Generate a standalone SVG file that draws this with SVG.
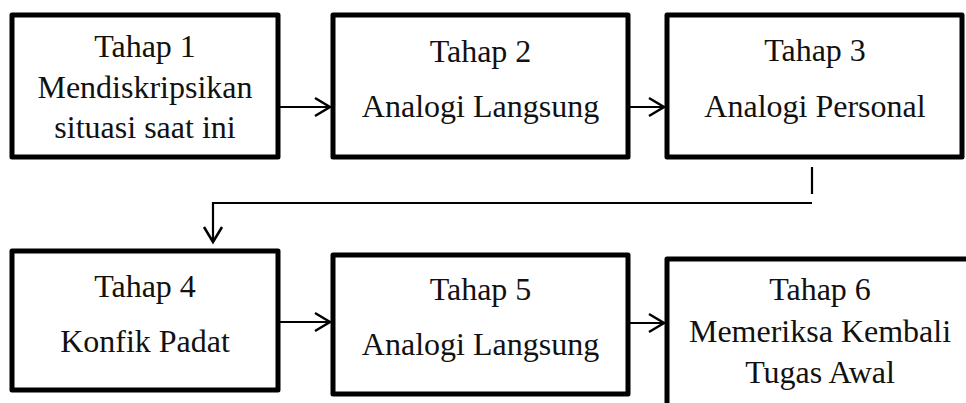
<svg xmlns="http://www.w3.org/2000/svg" width="966" height="403" viewBox="0 0 966 403">
<style>
.box{fill:#fff;stroke:#000;stroke-width:5;stroke-linejoin:round}
.lbl{font-family:"Liberation Serif","Times New Roman",serif;font-size:32px;fill:#111;text-anchor:middle}
.con{fill:none;stroke:#000;stroke-width:2.2}
</style>
<defs>
<marker id="arr" markerUnits="userSpaceOnUse" markerWidth="20" markerHeight="24" refX="16" refY="10" orient="auto" viewBox="0 0 20 20">
<polyline points="1,1 16,10 1,19" fill="none" stroke="#000" stroke-width="2.5" stroke-linejoin="miter"/>
</marker>
</defs>
<rect width="966" height="403" fill="#fff"/>
<g id="connectors">
<line class="con" x1="280" y1="107" x2="330" y2="107" marker-end="url(#arr)"/>
<line class="con" x1="630" y1="107" x2="664" y2="107" marker-end="url(#arr)"/>
<line class="con" x1="812" y1="167" x2="812" y2="194"/>
<polyline class="con" points="812,203 213,203 213,242" marker-end="url(#arr)"/>
<line class="con" x1="280" y1="322" x2="330" y2="322" marker-end="url(#arr)"/>
<line class="con" x1="630" y1="323" x2="664" y2="323" marker-end="url(#arr)"/>
</g>
<g id="tahap1">
<rect class="box" x="12" y="15" width="266" height="142"/>
<text class="lbl" x="145" y="57">Tahap 1</text>
<text class="lbl" x="145" y="98">Mendiskripsikan</text>
<text class="lbl" x="145" y="138">situasi saat ini</text>
</g>
<g id="tahap2">
<rect class="box" x="333" y="15" width="295" height="142"/>
<text class="lbl" x="480.5" y="62">Tahap 2</text>
<text class="lbl" x="480.5" y="117">Analogi Langsung</text>
</g>
<g id="tahap3">
<rect class="box" x="667" y="15" width="295" height="142"/>
<text class="lbl" x="815" y="61">Tahap 3</text>
<text class="lbl" x="815" y="117">Analogi Personal</text>
</g>
<g id="tahap4">
<rect class="box" x="12" y="251" width="266" height="139"/>
<text class="lbl" x="145" y="297">Tahap 4</text>
<text class="lbl" x="145" y="352">Konfik Padat</text>
</g>
<g id="tahap5">
<rect class="box" x="333" y="255" width="295" height="139"/>
<text class="lbl" x="480.5" y="300">Tahap 5</text>
<text class="lbl" x="480.5" y="355">Analogi Langsung</text>
</g>
<g id="tahap6">
<rect class="box" x="667" y="259" width="320" height="170"/>
<text class="lbl" x="820" y="300">Tahap 6</text>
<text class="lbl" x="820" y="342">Memeriksa Kembali</text>
<text class="lbl" x="820" y="383">Tugas Awal</text>
</g>
</svg>
